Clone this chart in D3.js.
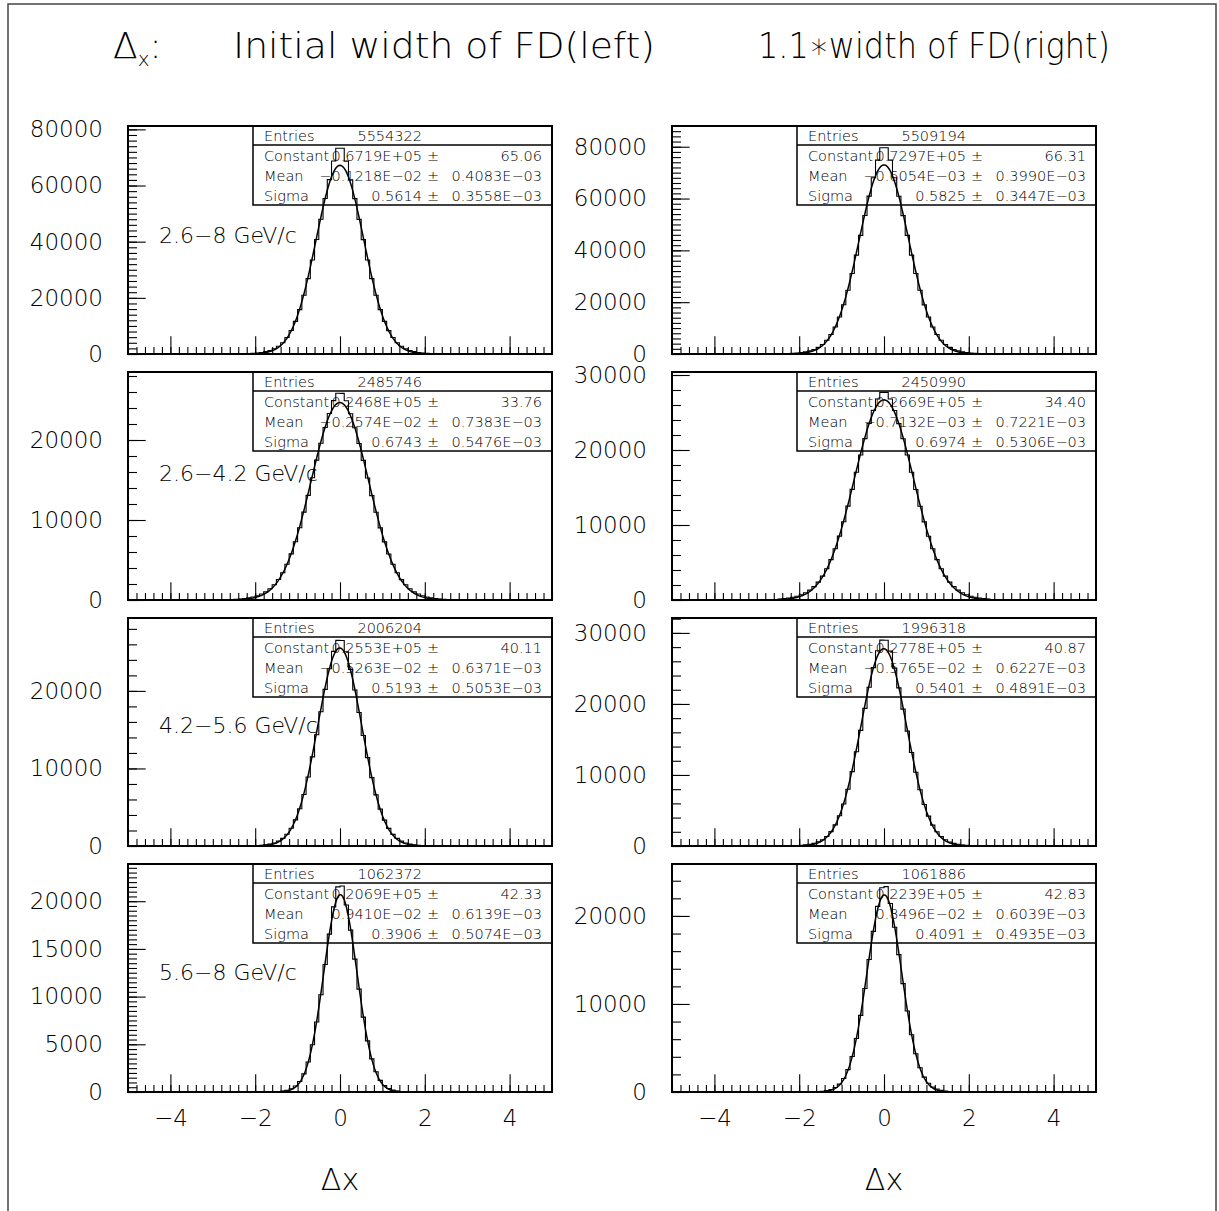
<!DOCTYPE html>
<html>
<head>
<meta charset="utf-8">
<script src="https://cdn.jsdelivr.net/npm/d3@7"></script>
<style>
  body { margin: 0; background: #fff; }
  svg { display: block; }
</style>
</head>
<body>
<div id="chart"></div>
<script>
const width = 1219, height = 1211;

// histogram bins: 0.1 wide, from -2.5 to 2.5 (everything outside is empty)
const binLo = -2.5, binWidth = 0.1;

const hist1 = [40, 65, 100, 160, 240, 370, 560, 835, 1250, 1860, 2750, 4030, 5850, 8350, 11630, 15820, 20940, 26860, 33480, 40760, 47980, 55370, 62090, 68730, 73280,
               73300, 68700, 62060, 55350, 47960, 40740, 33470, 26850, 20930, 15810, 11620, 8340, 5850, 4020, 2750, 1860, 1250, 835, 560, 370, 240, 160, 100, 65, 40];
const hist2 = [60, 95, 150, 240, 370, 560, 820, 1200, 1760, 2540, 3690, 5320, 7520, 10440, 14270, 18990, 24610, 31060, 38180, 45800, 53440, 60920, 68010, 74830, 79600,
               79620, 74810, 68000, 60900, 53420, 45790, 38170, 31050, 24600, 18980, 14260, 10430, 7520, 5310, 3690, 2540, 1760, 1200, 820, 560, 370, 240, 150, 95, 60];
const hist3 = [91, 134, 193, 275, 384, 535, 745, 1020, 1400, 1900, 2560, 3410, 4470, 5760, 7280, 9040, 10980, 13080, 15280, 17480, 19600, 21570, 23320, 24920, 25840,
               25830, 24900, 23290, 21540, 19570, 17450, 15250, 13050, 10960, 9020, 7270, 5750, 4460, 3400, 2550, 1900, 1400, 1020, 745, 535, 384, 275, 193, 134, 91];
const hist4 = [131, 187, 264, 370, 510, 710, 970, 1320, 1790, 2390, 3180, 4170, 5390, 6840, 8520, 10430, 12520, 14750, 17040, 19340, 21520, 23530, 25280, 26810, 27690,
               27690, 26800, 25270, 23520, 21510, 19330, 17030, 14740, 12510, 10420, 8510, 6840, 5390, 4170, 3180, 2390, 1790, 1320, 970, 710, 510, 370, 264, 187, 131];
const hist5 = [4, 7, 12, 20, 34, 56, 94, 153, 246, 392, 628, 985, 1510, 2290, 3370, 4800, 6650, 8890, 11490, 14340, 17310, 20200, 22850, 25100, 26510,
               26490, 25050, 22780, 20110, 17210, 14240, 11400, 8820, 6590, 4760, 3340, 2270, 1500, 978, 623, 389, 244, 152, 93, 56, 34, 20, 12, 7, 4];
const hist6 = [8, 13, 22, 37, 60, 97, 153, 241, 371, 574, 884, 1345, 2020, 2970, 4250, 5910, 8000, 10470, 13260, 16280, 19380, 22360, 25110, 27480, 28990,
               28970, 27430, 25030, 22260, 19270, 16170, 13160, 10380, 7930, 5850, 4210, 2940, 2000, 1330, 875, 568, 367, 238, 151, 96, 59, 37, 22, 13, 8];
const hist7 = [0, 0, 0, 0, 0, 1, 3, 7, 14, 27, 53, 102, 190, 343, 625, 1105, 1905, 3150, 4950, 7330, 10200, 13370, 16550, 19410, 21500,
               21600, 19610, 16970, 13930, 10780, 7850, 5360, 3470, 2115, 1215, 683, 373, 206, 110, 57, 29, 15, 7, 3, 1, 0, 0, 0, 0, 0];
const hist8 = [0, 0, 0, 0, 1, 3, 7, 13, 25, 48, 89, 162, 286, 508, 890, 1530, 2540, 4030, 6080, 8700, 11750, 15060, 18250, 21090, 23210,
               23330, 21410, 18710, 15600, 12310, 9200, 6500, 4350, 2760, 1685, 988, 568, 324, 186, 103, 56, 29, 15, 7, 3, 1, 0, 0, 0, 0];
const hists = [hist1, hist2, hist3, hist4, hist5, hist6, hist7, hist8];

// statistics boxes (row by row: left, right)
const entries   = ["5554322", "5509194", "2485746", "2450990", "2006204", "1996318", "1062372", "1061886"];
const constants = ["0.6719E+05", "0.7297E+05", "0.2468E+05", "0.2669E+05", "0.2553E+05", "0.2778E+05", "0.2069E+05", "0.2239E+05"];
const constErr  = ["65.06", "66.31", "33.76", "34.40", "40.11", "40.87", "42.33", "42.83"];
const means     = ["-0.1218E-02", "-0.6054E-03", "-0.2574E-02", "-0.7132E-03", "-0.5263E-02", "-0.5765E-02", "0.9410E-02", "0.8496E-02"];
const meanErr   = ["0.4083E-03", "0.3990E-03", "0.7383E-03", "0.7221E-03", "0.6371E-03", "0.6227E-03", "0.6139E-03", "0.6039E-03"];
const sigmas    = ["0.5614", "0.5825", "0.6743", "0.6974", "0.5193", "0.5401", "0.3906", "0.4091"];
const sigmaErr  = ["0.3558E-03", "0.3447E-03", "0.5476E-03", "0.5306E-03", "0.5053E-03", "0.4891E-03", "0.5074E-03", "0.4935E-03"];

const rangeLabels = ["2.6-8 GeV/c", "2.6-4.2 GeV/c", "4.2-5.6 GeV/c", "5.6-8 GeV/c"];

// axes
const yMax   = [81200, 88000, 28500, 30400, 29400, 32100, 23900, 25900];
const yStep  = [20000, 20000, 10000, 10000, 10000, 10000, 5000, 10000];
const yMinor = [10, 10, 5, 5, 5, 5, 10, 5];
const xTicks = [-4, -2, 0, 2, 4];

// layout
const colX = [128, 672], rowY = [126, 372, 618, 864];
const pw = 424, ph = 228;
const labelDy = [117, 109, 115, 116];
const font = '"DejaVu Sans", sans-serif';
const dash = s => s.replace(/-/g, "\u2212");

const svg = d3.select("#chart").append("svg")
    .attr("width", width)
    .attr("height", height)
    .attr("font-family", font)
    .attr("font-weight", 200);

// page frame (open at the bottom)
svg.append("path")
    .attr("d", `M8,${height} V4 H1216 V${height}`)
    .attr("fill", "none")
    .attr("stroke", "#444")
    .attr("stroke-width", 1.5);

// title
const title = svg.append("text")
    .attr("y", 58)
    .attr("font-size", 36);
title.append("tspan").attr("x", 113).text("\u0394");
title.append("tspan").attr("font-size", 20).attr("dy", 8).text("x");
title.append("tspan").attr("dy", -8).text(":");

svg.append("text")
    .attr("x", 233).attr("y", 58)
    .attr("font-size", 36)
    .attr("textLength", 422)
    .attr("lengthAdjust", "spacingAndGlyphs")
    .text("Initial width of FD(left)");

svg.append("text")
    .attr("x", 758).attr("y", 58)
    .attr("font-size", 36)
    .attr("textLength", 352)
    .attr("lengthAdjust", "spacingAndGlyphs")
    .text("1.1\u2217width of FD(right)");

const x = d3.scaleLinear().domain([-5, 5]).range([0, pw]);
const fitXs = d3.range(-5, 5.001, 0.02);

hists.forEach((counts, i) => {
    const col = i % 2, row = Math.floor(i / 2);
    const g = svg.append("g")
        .attr("transform", `translate(${colX[col]},${rowY[row]})`);

    const y = d3.scaleLinear().domain([0, yMax[i]]).range([ph, 0]);

    // minor ticks
    const yMinorStep = yStep[i] / yMinor[i];
    g.append("g")
        .call(d3.axisLeft(y)
            .tickValues(d3.range(0, yMax[i], yMinorStep))
            .tickSizeInner(-9).tickSizeOuter(0).tickFormat(""))
        .call(a => a.select(".domain").remove());

    g.append("g")
        .attr("transform", `translate(0,${ph})`)
        .call(d3.axisBottom(x)
            .tickValues(d3.range(-50, 51, 2).map(v => v / 10))
            .tickSizeInner(-7).tickSizeOuter(0).tickFormat(""))
        .call(a => a.select(".domain").remove());

    // major ticks with labels
    g.append("g")
        .call(d3.axisLeft(y)
            .tickValues(d3.range(0, yMax[i], yStep[i]))
            .tickSizeInner(-17.7).tickSizeOuter(0).tickPadding(25)
            .tickFormat(d3.format("d")))
        .call(a => a.select(".domain").remove())
        .call(a => a.selectAll("text")
            .attr("font-family", font).attr("font-size", 23).attr("font-weight", 200)
            .attr("fill", "#000"));

    const xAxis = g.append("g")
        .attr("transform", `translate(0,${ph})`)
        .call(d3.axisBottom(x)
            .tickValues(xTicks)
            .tickSizeInner(-17.7).tickSizeOuter(0).tickPadding(17.7)
            .tickFormat(d => row === 3 ? dash(String(d)) : ""))
        .call(a => a.select(".domain").remove());
    xAxis.selectAll("text")
        .attr("font-family", font).attr("font-size", 23).attr("font-weight", 200)
        .attr("fill", "#000");

    g.selectAll(".tick line").attr("stroke", "#000").attr("stroke-width", 1.1);

    // histogram as a step contour
    const pts = [[-5, 0]];
    counts.forEach((v, k) => pts.push([binLo + k * binWidth, v]));
    pts.push([binLo + counts.length * binWidth, 0], [5, 0]);
    g.append("path")
        .datum(pts)
        .attr("fill", "none")
        .attr("stroke", "#000")
        .attr("stroke-width", 1.1)
        .attr("d", d3.line().x(d => x(d[0])).y(d => y(d[1])).curve(d3.curveStepAfter));

    // gaussian fit drawn from the fitted parameters
    const C = +constants[i], mu = +means[i], s = +sigmas[i];
    g.append("path")
        .datum(fitXs)
        .attr("fill", "none")
        .attr("stroke", "#000")
        .attr("stroke-width", 1.5)
        .attr("d", d3.line()
            .x(d => x(d))
            .y(d => y(C * Math.exp(-0.5 * ((d - mu) / s) ** 2))));

    // frame
    g.append("rect")
        .attr("width", pw).attr("height", ph)
        .attr("fill", "none")
        .attr("stroke", "#000")
        .attr("stroke-width", 2);

    // statistics box
    const bx = 125, bw = pw - bx;
    const box = g.append("g").attr("font-size", 14.5).attr("fill", "#000");
    box.append("rect")
        .attr("x", bx).attr("width", bw).attr("height", 79)
        .attr("fill", "none").attr("stroke", "#000").attr("stroke-width", 1.5);
    box.append("line")
        .attr("x1", bx).attr("x2", pw).attr("y1", 19).attr("y2", 19)
        .attr("stroke", "#000").attr("stroke-width", 1.5);

    const rows = [
        ["Entries", entries[i], null, null],
        ["Constant", constants[i], "\u00b1", constErr[i]],
        ["Mean", means[i], "\u00b1", meanErr[i]],
        ["Sigma", sigmas[i], "\u00b1", sigmaErr[i]]
    ];
    rows.forEach((r, k) => {
        const by = 14.7 + k * 20;
        box.append("text").attr("x", bx + 11).attr("y", by).text(r[0]);
        box.append("text").attr("x", bx + 169).attr("y", by)
            .attr("text-anchor", "end").text(dash(r[1]));
        if (r[2]) {
            box.append("text").attr("x", bx + 180).attr("y", by)
                .attr("text-anchor", "middle").text(r[2]);
            box.append("text").attr("x", bx + 289).attr("y", by)
                .attr("text-anchor", "end").text(dash(r[3]));
        }
    });

    // momentum range label on the left column
    if (col === 0) {
        g.append("text")
            .attr("x", 31).attr("y", labelDy[row])
            .attr("font-size", 22)
            .text(dash(rangeLabels[row]));
    }

    // x axis title under the bottom row
    if (row === 3) {
        g.append("text")
            .attr("x", pw / 2).attr("y", ph + 98)
            .attr("text-anchor", "middle")
            .attr("font-size", 30)
            .text("\u0394x");
    }
});
</script>
</body>
</html>
